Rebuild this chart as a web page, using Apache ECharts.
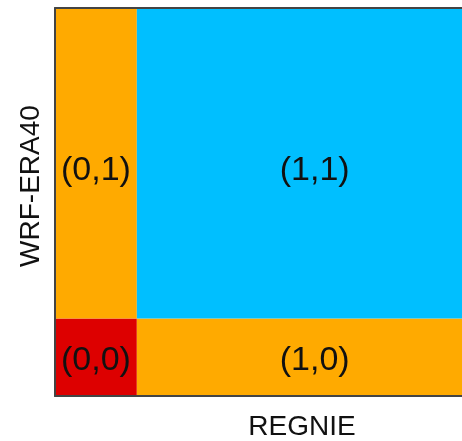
<!DOCTYPE html>
<html>
<head>
<meta charset="utf-8">
<script src="https://cdn.jsdelivr.net/npm/echarts@6/dist/echarts.min.js"></script>
<style>
  html, body { margin: 0; padding: 0; background: #fff; }
  #chart { width: 462px; height: 441px; }
</style>
</head>
<body>
<div id="chart"></div>
<script>
// contingency cells: (REGNIE, WRF-ERA40)
const cellLabels = ['(0,0)', '(1,0)', '(0,1)', '(1,1)'];
const xStart = [0, 0.187, 0, 0.187];
const xEnd   = [0.187, 1, 0.187, 1];
const yStart = [0, 0, 0.2, 0.2];
const yEnd   = [0.2, 0.2, 1, 1];
// where the label text sits inside each cell
const labelX = [0.0935, 0.5935, 0.0935, 0.5935];
const labelY = [0.09, 0.09, 0.58, 0.58];

const cellColors = ['#DD0000', '#FFAA00', '#FFAA00', '#00BFFF'];

const chart = echarts.init(document.getElementById('chart'));

const data = cellLabels.map((name, i) =>
  [xStart[i], xEnd[i], yStart[i], yEnd[i], labelX[i], labelY[i], i]);

// the plot runs off the right edge of the picture
const xVisibleMax = 0.93;

const hiddenAxis = {
  type: 'value',
  min: 0,
  max: 1,
  axisLabel: { show: false },
  axisTick: { show: false },
  splitLine: { show: false },
  axisLine: { show: true, lineStyle: { color: '#444', width: 2 } },
  z: 10
};

chart.setOption({
  animation: false,
  grid: { left: 55, top: 8, right: 0, height: 388 },
  xAxis: [
    Object.assign({}, hiddenAxis, { position: 'bottom', max: xVisibleMax }),
    Object.assign({}, hiddenAxis, { position: 'top', max: xVisibleMax })
  ],
  yAxis: Object.assign({}, hiddenAxis, { position: 'left' }),
  graphic: [
    {
      type: 'text', x: 302, y: 427,
      style: { text: 'REGNIE', fontSize: 28, fontFamily: 'Liberation Sans',
        fill: '#111', align: 'center', verticalAlign: 'middle' }
    },
    {
      type: 'text', x: 31, y: 186, rotation: Math.PI / 2,
      style: { text: 'WRF-ERA40', fontSize: 28, fontFamily: 'Liberation Sans',
        fill: '#111', align: 'center', verticalAlign: 'middle' }
    }
  ],
  series: [{
    type: 'custom',
    xAxisIndex: 0,
    clip: true,
    data: data,
    renderItem: function (params, api) {
      const p0 = api.coord([api.value(0), api.value(3)]);
      const p1 = api.coord([api.value(1), api.value(2)]);
      const lp = api.coord([api.value(4), api.value(5)]);
      const idx = api.value(6);
      return {
        type: 'group',
        children: [
          {
            type: 'rect',
            shape: { x: p0[0], y: p0[1], width: p1[0] - p0[0], height: p1[1] - p0[1] },
            style: { fill: cellColors[idx], stroke: null }
          },
          {
            type: 'text',
            x: lp[0], y: lp[1],
            style: { text: cellLabels[idx], fontSize: 34, fontFamily: 'Liberation Sans',
              fill: '#111', align: 'center', verticalAlign: 'middle' }
          }
        ]
      };
    }
  }]
});
</script>
</body>
</html>
